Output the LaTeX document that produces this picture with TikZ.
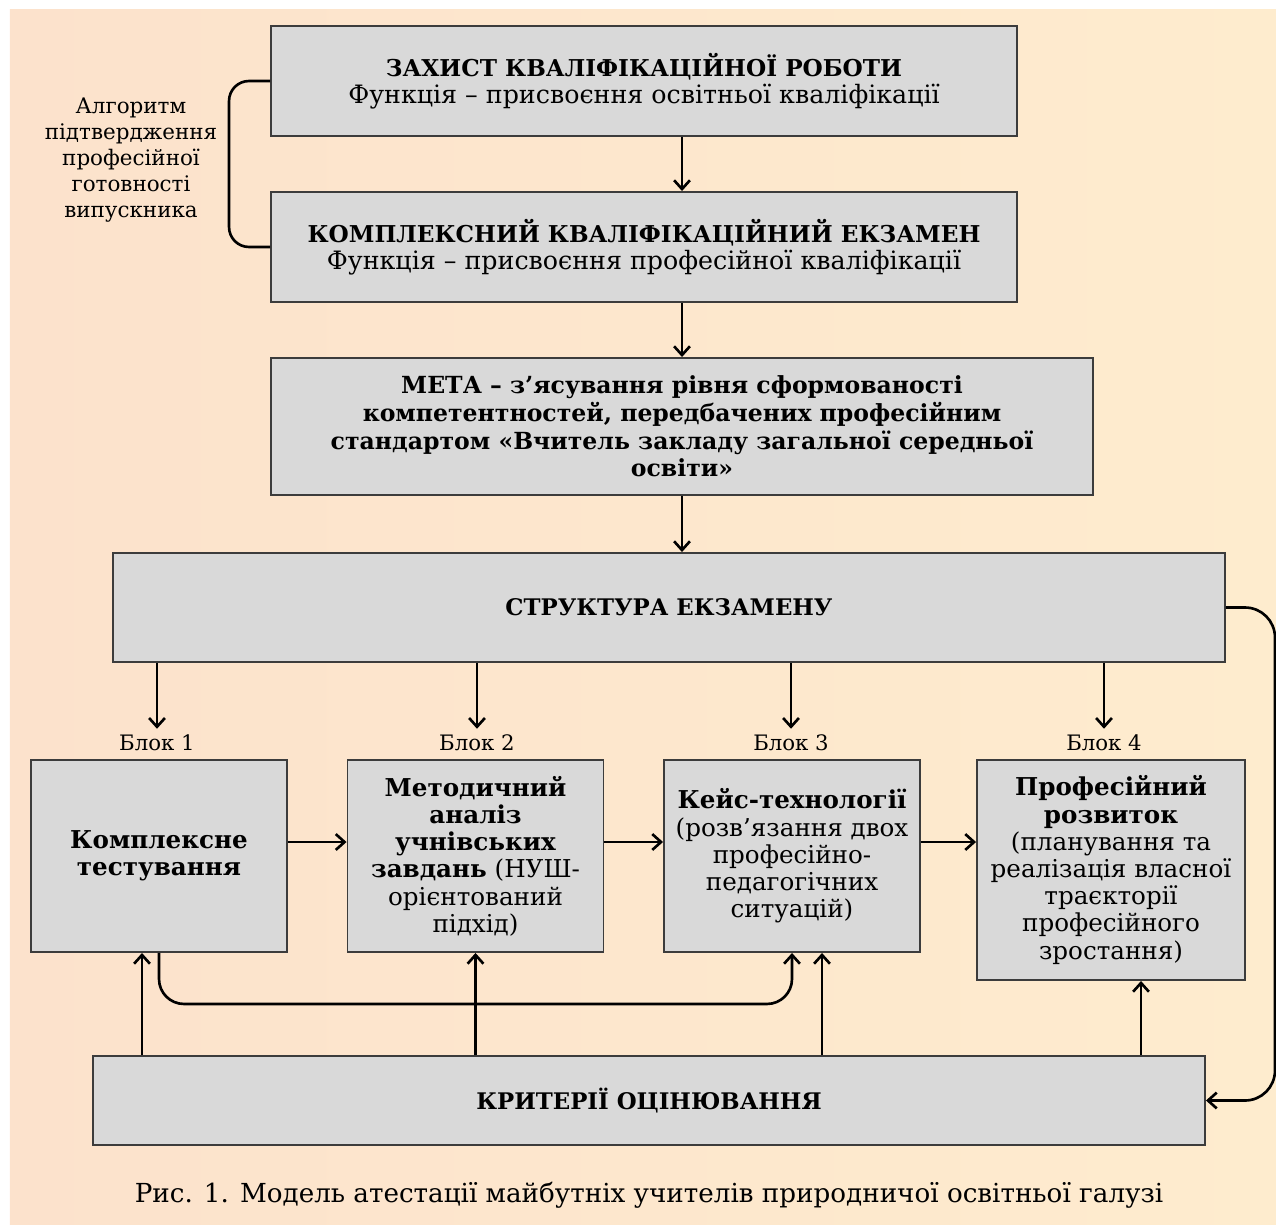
\documentclass[tikz,border=0pt]{standalone}
\usepackage{fontspec}
\setmainfont{DejaVu Serif}
\usetikzlibrary{arrows.meta}

\definecolor{bgleft}{RGB}{252,226,204}
\definecolor{bgmid}{RGB}{250,210,200}
\definecolor{bgright}{RGB}{254,236,206}
\definecolor{boxfill}{RGB}{217,217,217}
\definecolor{boxline}{RGB}{60,60,60}

\begin{document}
\begin{tikzpicture}[
    box/.style={draw=boxline, fill=boxfill, line width=1.1pt, align=center, inner sep=2pt,
      font=\fontsize{14}{15.5}\selectfont},
    blk/.style={box, minimum width=5.12cm, minimum height=3.84cm},
    caps/.style={font=\bfseries\fontsize{13}{15.5}\selectfont},
    arr/.style={-{Straight Barb[length=5pt,width=9pt]}, line width=1.5pt},
    lnk/.style={line width=1.5pt}
  ]
  \useasboundingbox (0,0) rectangle (25.52,-24.48);
  \shade[left color=bgleft, middle color=bgmid, right color=bgright] (0.2,-0.2) rectangle (25.52,-24.48);

  \node[box, minimum width=14.92cm, minimum height=2.2cm] (zakhyst) at (12.88,-1.62)
    {{\bfseries\fontsize{13.2}{16}\selectfont ЗАХИСТ КВАЛІФІКАЦІЙНОЇ РОБОТИ}\\
     {\fontsize{14.4}{16}\selectfont Функція – присвоєння освітньої кваліфікації}};
  \node[box, minimum width=14.92cm, minimum height=2.2cm] (ispyt) at (12.88,-4.94)
    {{\bfseries\fontsize{13.2}{16}\selectfont КОМПЛЕКСНИЙ КВАЛІФІКАЦІЙНИЙ ЕКЗАМЕН}\\
     {\fontsize{14.4}{16}\selectfont Функція – присвоєння професійної кваліфікації}};
  \node[box, minimum width=16.44cm, minimum height=2.74cm, font=\bfseries\fontsize{13.4}{15.7}\selectfont] (meta) at (13.64,-8.53)
    {МЕТА – з’ясування рівня сформованості\\компетентностей, передбачених професійним\\стандартом «Вчитель закладу загальної середньої\\освіти»};
  \node[box, caps, minimum width=22.24cm, minimum height=2.18cm] (struktura) at (13.38,-12.15)
    {СТРУКТУРА ЕКЗАМЕНУ};

  \node[font=\fontsize{12.1}{14}\selectfont] (blk1) at (3.14,-14.86) {Блок 1};
  \node[font=\fontsize{12.1}{14}\selectfont] (blk2) at (9.54,-14.86) {Блок 2};
  \node[font=\fontsize{12.1}{14}\selectfont] (blk3) at (15.82,-14.86) {Блок 3};
  \node[font=\fontsize{12.1}{14}\selectfont] (blk4) at (22.08,-14.86) {Блок 4};

  \node[blk] (testy) at (3.18,-17.12) {\textbf{Комплексне}\\\textbf{тестування}};
  \node[blk] (analiz) at (9.51,-17.12)
    {\textbf{Методичний}\\\textbf{аналіз}\\\textbf{учнівських}\\\textbf{завдань} (НУШ-\\орієнтований\\підхід)};
  \node[blk] (keis) at (15.84,-17.12)
    {\textbf{Кейс-технології}\\(розв’язання двох\\професійно-\\педагогічних\\ситуацій)};
  \node[blk, minimum width=5.36cm, minimum height=4.4cm] (rozvytok) at (22.22,-17.4)
    {\textbf{Професійний}\\\textbf{розвиток}\\(планування та\\реалізація власної\\траєкторії\\професійного\\зростання)};

  \node[box, caps, minimum width=22.24cm, minimum height=1.78cm] (kryterii) at (12.98,-22.01)
    {КРИТЕРІЇ ОЦІНЮВАННЯ};

  \node[align=center, font=\fontsize{12.2}{14.7}\selectfont] (alg) at (2.62,-3.2)
    {Алгоритм\\підтвердження\\професійної\\готовності\\випускника};

  \node[font=\fontsize{14.9}{17}\selectfont] (caption) at (12.98,-23.9)
    {Рис. 1. Модель атестації майбутніх учителів природничої освітньої галузі};

  % main chain
  \draw[arr] (zakhyst.south -| meta) -- (ispyt.north -| meta);
  \draw[arr] (ispyt.south -| meta) -- (meta.north);
  \draw[arr] (meta.south) -- (struktura.north -| meta);
  \draw[lnk, rounded corners=0.4cm] (zakhyst.west) -- ++(-0.82,0) |- (ispyt.west);

  \foreach \b in {blk1,blk2,blk3,blk4}
    \draw[arr] (struktura.south -| \b) -- (\b.north);

  \draw[arr] ([yshift=0.28cm]testy.east) -- ([yshift=0.28cm]analiz.west);
  \draw[arr] ([yshift=0.28cm]analiz.east) -- ([yshift=0.28cm]keis.west);
  \draw[arr] ([yshift=0.28cm]keis.east) -- ([yshift=0.28cm]keis.east -| rozvytok.west);

  \draw[arr, rounded corners=0.5cm] (testy.south) -- ++(0,-1.02) -| (keis.south);

  \draw[arr] ([xshift=-0.34cm]testy.south |- kryterii.north) -- ([xshift=-0.34cm]testy.south);
  \draw[arr] (kryterii.north -| analiz.south) -- (analiz.south);
  \draw[arr] ([xshift=0.6cm]keis.south |- kryterii.north) -- ([xshift=0.6cm]keis.south);
  \draw[arr] ([xshift=0.6cm]rozvytok.south |- kryterii.north) -- ([xshift=0.6cm]rozvytok.south);

  \draw[arr, rounded corners=0.6cm] (struktura.east) -- ++(0.98,0) |- (kryterii.east);
\end{tikzpicture}
\end{document}
